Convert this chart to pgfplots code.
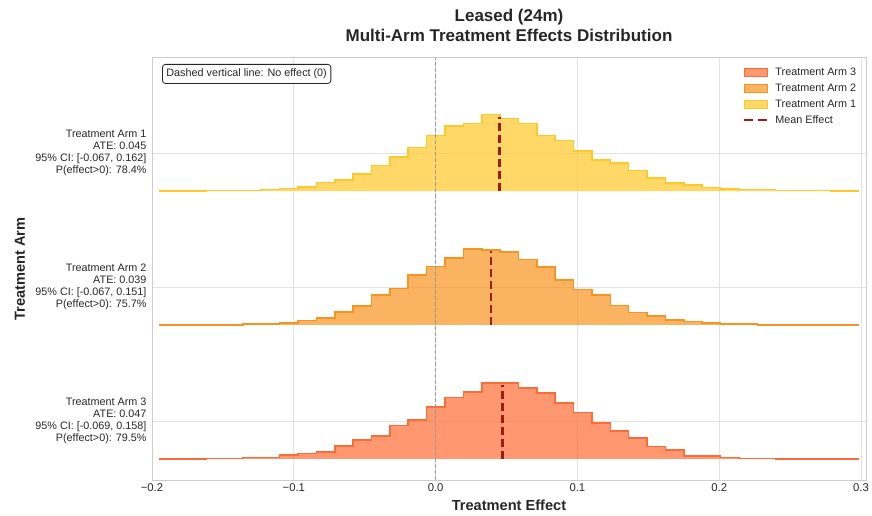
\documentclass[border=0pt]{standalone}
\usepackage{fontspec}
\setmainfont{Liberation Sans}
\usepackage{pgfplots}
\pgfplotsset{compat=1.18}
\usepackage{pgfplotstable}

\definecolor{armone}{HTML}{FFC828}
\definecolor{armtwo}{HTML}{F7931E}
\definecolor{armthree}{HTML}{FF6B35}
\definecolor{meanred}{HTML}{A01B12}
\definecolor{gridgray}{HTML}{E2E2E2}
\definecolor{framegray}{HTML}{CCCCCC}
\definecolor{zerogray}{HTML}{9A9A9A}

\tikzset{meanline/.style={meanred, line width=2.5bp, dash pattern=on 8bp off 4bp}}

% Binned posterior draws (bin centres, scaled heights) for each arm;
% the first and last rows close each area down to its baseline
\pgfplotstableread{
x        a1     a2     a3
-0.1942  0.000  0.000  0.000
-0.1942  0.002  0.002  0.001
-0.1812  0.002  0.002  0.001
-0.1683  0.002  0.002  0.001
-0.1553  0.005  0.002  0.004
-0.1424  0.005  0.002  0.004
-0.1294  0.005  0.007  0.010
-0.1165  0.010  0.007  0.010
-0.1035  0.020  0.017  0.028
-0.0906  0.032  0.035  0.040
-0.0776  0.065  0.052  0.054
-0.0646  0.084  0.095  0.095
-0.0517  0.129  0.140  0.140
-0.0387  0.192  0.226  0.172
-0.0258  0.254  0.271  0.249
-0.0128  0.326  0.375  0.293
0.0001   0.413  0.438  0.386
0.0131   0.485  0.500  0.460
0.0260   0.505  0.567  0.502
0.0390   0.572  0.560  0.569
0.0519   0.540  0.547  0.565
0.0649   0.505  0.490  0.528
0.0779   0.413  0.433  0.493
0.0908   0.378  0.334  0.418
0.1038   0.299  0.266  0.346
0.1167   0.231  0.224  0.269
0.1297   0.211  0.147  0.209
0.1426   0.154  0.092  0.157
0.1556   0.099  0.065  0.092
0.1685   0.060  0.037  0.067
0.1815   0.047  0.025  0.020
0.1945   0.025  0.015  0.020
0.2074   0.015  0.007  0.010
0.2204   0.010  0.007  0.004
0.2333   0.010  0.002  0.004
0.2463   0.005  0.002  0.001
0.2592   0.005  0.002  0.001
0.2722   0.005  0.002  0.001
0.2852   0.002  0.002  0.001
0.2981   0.002  0.002  0.001
0.2981   0.000  0.000  0.000
}\histdata

\begin{document}
\begin{tikzpicture}
\useasboundingbox (0,0) rectangle (872bp,516bp);
\begin{axis}[
  at={(152bp,36bp)}, anchor=south west,
  scale only axis, width=714bp, height=422bp,
  xmin=-0.2, xmax=0.3035,
  ymin=-0.157, ymax=2.993,
  xtick={-0.2,-0.1,0,0.1,0.2,0.3},
  xticklabels={−0.2,−0.1,0.0,0.1,0.2,0.3},
  ytick={0.284,1.284,2.284},
  yticklabels={
    {Treatment Arm 3\\ATE: 0.047\\95\% CI: [-0.069, 0.158]\\P(effect>0): 79.5\%},
    {Treatment Arm 2\\ATE: 0.039\\95\% CI: [-0.067, 0.151]\\P(effect>0): 75.7\%},
    {Treatment Arm 1\\ATE: 0.045\\95\% CI: [-0.067, 0.162]\\P(effect>0): 78.4\%}},
  /pgf/number format/assume math mode=true,
  major tick length=0pt,
  xticklabel style={font=\fontsize{11.3bp}{13bp}\selectfont, text=black!85, yshift=-0.5bp},
  yticklabel style={font=\fontsize{10.8bp}{11.8bp}\selectfont, align=right, text=black!85, xshift=-2bp},
  grid=major,
  grid style={gridgray, line width=0.8bp},
  axis line style={framegray, line width=1bp},
  every axis x label/.style={at={(axis description cs:0.5,0)}, anchor=center, yshift=-25bp},
  every axis y label/.style={at={(axis description cs:-0.1849,0.5)}, anchor=center, rotate=90},
  xlabel={Treatment Effect},
  ylabel={Treatment Arm},
  label style={font=\fontsize{14.6bp}{16bp}\selectfont\bfseries, text=black!85},
  title style={at={(axis description cs:0.5,1)}, anchor=center, yshift=26.5bp, align=center,
    font=\fontsize{17bp}{20bp}\selectfont\bfseries, text=black!85},
  title={Leased (24m)\\Multi-Arm Treatment Effects Distribution},
  legend cell align=left,
  legend style={at={(rel axis cs:0.826,0.984)}, anchor=north west, draw=none, fill=white,
    font=\fontsize{10.8bp}{12bp}\selectfont, text=black!85, row sep=3bp, inner sep=1bp,
    nodes={inner sep=1bp, text height=8.5bp, text depth=2.4bp},
    /tikz/every odd column/.append style={column sep=6bp}},
]

% Treatment Arm 3 (baseline 0)
\addplot[fill=armthree, fill opacity=0.7, draw=none, const plot mark mid, forget plot]
  table[x=x, y expr=\thisrow{a3}] {\histdata};
\addplot[armthree, line width=1.6bp, const plot mark mid, forget plot]
  table[x=x, y expr=\thisrow{a3}] {\histdata};

% Treatment Arm 2 (baseline 1)
\addplot[fill=armtwo, fill opacity=0.7, draw=none, const plot mark mid, forget plot]
  table[x=x, y expr=\thisrow{a2}+1] {\histdata};
\addplot[armtwo, line width=1.6bp, const plot mark mid, forget plot]
  table[x=x, y expr=\thisrow{a2}+1] {\histdata};

% Treatment Arm 1 (baseline 2)
\addplot[fill=armone, fill opacity=0.7, draw=none, const plot mark mid, forget plot]
  table[x=x, y expr=\thisrow{a1}+2] {\histdata};
\addplot[armone, line width=1.6bp, const plot mark mid, forget plot]
  table[x=x, y expr=\thisrow{a1}+2] {\histdata};

% Mean effect markers
\addplot[meanline, forget plot] coordinates {(0.047,0) (0.047,0.552)};
\addplot[meanline, forget plot] coordinates {(0.039,1) (0.039,1.552)};
\addplot[meanline, forget plot] coordinates {(0.045,2) (0.045,2.552)};

% No-effect reference
\addplot[zerogray, line width=1bp, dash pattern=on 4bp off 2bp, forget plot] coordinates {(0,-0.157) (0,2.993)};

% Legend entries
\addlegendimage{legend image code/.code={\fill[armthree, fill opacity=0.7] (0bp,-4bp) rectangle (23bp,4bp);}}
\addlegendentry{Treatment Arm 3}
\addlegendimage{legend image code/.code={\fill[armtwo, fill opacity=0.7] (0bp,-4bp) rectangle (23bp,4bp);}}
\addlegendentry{Treatment Arm 2}
\addlegendimage{legend image code/.code={\fill[armone, fill opacity=0.7] (0bp,-4bp) rectangle (23bp,4bp);}}
\addlegendentry{Treatment Arm 1}
\addlegendimage{legend image code/.code={\draw[meanred, line width=2.5bp, dash pattern=on 9bp off 5bp] (0bp,0bp) -- (23bp,0bp);}}
\addlegendentry{Mean Effect}

\node[anchor=north west, draw=black!85, line width=0.8bp, rounded corners=3bp, fill=white,
      inner xsep=4bp, inner ysep=4.5bp, font=\fontsize{10.8bp}{12bp}\selectfont, text=black!85]
  at (rel axis cs:0,1) [xshift=10bp, yshift=-6bp] {Dashed vertical line: No effect (0)};
\end{axis}
\end{tikzpicture}
\end{document}
